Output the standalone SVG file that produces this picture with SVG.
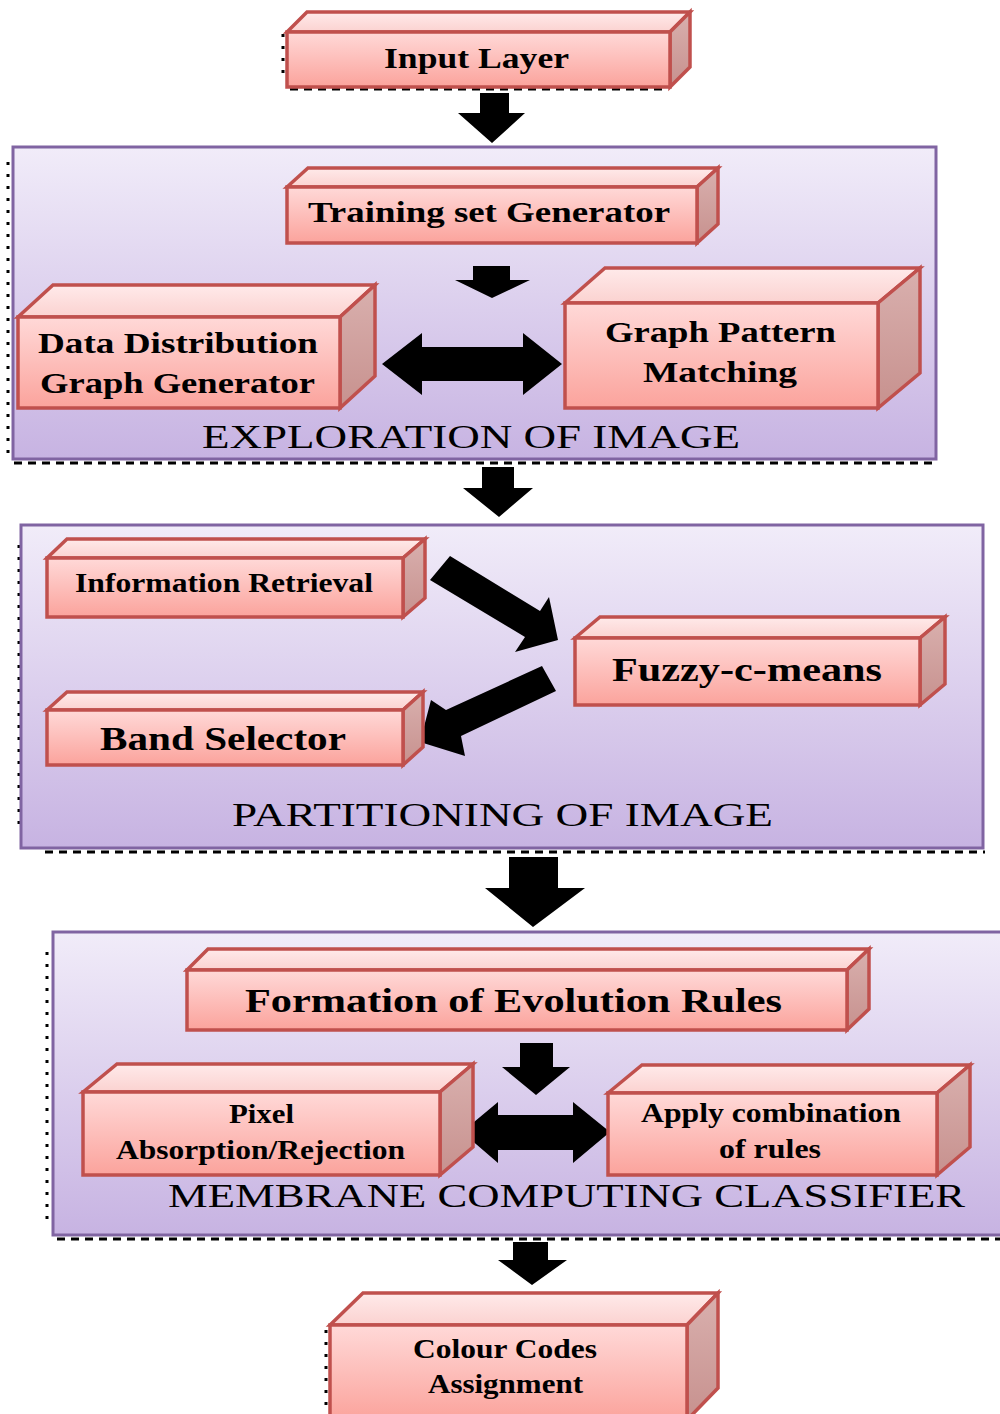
<svg xmlns="http://www.w3.org/2000/svg" width="1000" height="1414" viewBox="0 0 1000 1414">
  <defs>
    <linearGradient id="gPanel" x1="0" y1="0" x2="0" y2="1">
      <stop offset="0" stop-color="#f1ecf9"/>
      <stop offset="1" stop-color="#c7b3e2"/>
    </linearGradient>
    <linearGradient id="gFront" x1="0" y1="0" x2="0" y2="1">
      <stop offset="0" stop-color="#ffd9d8"/>
      <stop offset="1" stop-color="#fba39c"/>
    </linearGradient>
    <linearGradient id="gTop" x1="0" y1="0" x2="0" y2="1">
      <stop offset="0" stop-color="#ffeaea"/>
      <stop offset="1" stop-color="#fbd2d0"/>
    </linearGradient>
    <linearGradient id="gSide" x1="0" y1="0" x2="0" y2="1">
      <stop offset="0" stop-color="#d9b0ae"/>
      <stop offset="1" stop-color="#c7918e"/>
    </linearGradient>
    <style>
      .panel { fill: url(#gPanel); stroke: #8064a2; stroke-width: 3; }
      .front { fill: url(#gFront); stroke: #c0504d; stroke-width: 3.5; stroke-linejoin: miter; }
      .top { fill: url(#gTop); stroke: #c0504d; stroke-width: 3.5; stroke-linejoin: miter; }
      .side { fill: url(#gSide); stroke: #c0504d; stroke-width: 3.5; stroke-linejoin: miter; }
      .lbl { font-family: "Liberation Serif", "Times New Roman", serif; font-weight: bold; fill: #000; }
      .cap { font-family: "Liberation Serif", "Times New Roman", serif; font-weight: normal; fill: #000; }
      .arrow { fill: #000; stroke: none; }
      .dots { stroke: #000; stroke-width: 3; fill: none; stroke-dasharray: 3 9; }
      .dash { stroke: #000; stroke-width: 3; fill: none; stroke-dasharray: 8 6; }
    </style>
  </defs>

  <rect width="1000" height="1414" fill="#ffffff"/>

  <!-- dotted frame remnants around containers and boxes -->
  <g id="frames">
    <line class="dots" x1="8" y1="162" x2="8" y2="460"/>
    <line class="dash" x1="14" y1="463" x2="936" y2="463"/>
    <line class="dots" x1="19" y1="545" x2="19" y2="830"/>
    <line class="dash" x1="45" y1="852" x2="985" y2="852" stroke-dasharray="7 24"/>
    <line class="dots" x1="47" y1="952" x2="47" y2="1225"/>
    <line class="dash" x1="57" y1="1239" x2="1000" y2="1239" stroke-dasharray="24 9 24 30"/>
    <line class="dots" x1="283" y1="34" x2="283" y2="80"/>
    <line class="dash" x1="290" y1="89" x2="665" y2="89" stroke-dasharray="30 17"/>
    <line class="dots" x1="283" y1="186" x2="283" y2="242"/>
    <line class="dash" x1="320" y1="248" x2="640" y2="248" stroke-dasharray="7 54"/>
    <line class="dots" x1="560" y1="330" x2="560" y2="405"/>
    <line class="dash" x1="568" y1="410" x2="880" y2="410" stroke-dasharray="6 14"/>
    <line class="dots" x1="16" y1="316" x2="16" y2="400"/>
    <line class="dots" x1="44" y1="562" x2="44" y2="600"/>
    <line class="dots" x1="44" y1="726" x2="44" y2="756"/>
    <line class="dots" x1="571" y1="655" x2="571" y2="703"/>
    <line class="dots" x1="948" y1="635" x2="948" y2="685"/>
    <line class="dots" x1="180" y1="990" x2="180" y2="1032"/>
    <line class="dash" x1="190" y1="1034" x2="850" y2="1034" stroke-dasharray="6 5"/>
    <line class="dots" x1="80" y1="1100" x2="80" y2="1165"/>
    <line class="dots" x1="605" y1="1110" x2="605" y2="1175"/>
    <line class="dots" x1="326" y1="1330" x2="326" y2="1410"/>
  </g>

  <!-- container panels -->
  <g id="exploration">
    <rect class="panel" x="13" y="147" width="923" height="312"/>
    <text class="cap" x="202" y="448" font-size="33" textLength="538" lengthAdjust="spacingAndGlyphs">EXPLORATION OF IMAGE</text>
  </g>
  <g id="partitioning">
    <rect class="panel" x="21" y="525" width="962" height="323"/>
    <text class="cap" x="232" y="826" font-size="33" textLength="541" lengthAdjust="spacingAndGlyphs">PARTITIONING OF IMAGE</text>
  </g>
  <g id="membrane">
    <rect class="panel" x="53" y="932" width="960" height="303"/>
  </g>

  <!-- connectors -->
  <g id="connectors">
    <!-- input -> exploration -->
    <polygon class="arrow" points="480,93 509,93 509,113 525,113 492,143 458,113 480,113"/>
    <!-- training set -> pattern level -->
    <polygon class="arrow" points="473,266 510,266 510,280 530,280 492,298 455,280 473,280"/>
    <!-- data distribution <-> graph pattern -->
    <polygon class="arrow" points="382,364 422,333 422,347 523,347 523,333 562,364 523,395 523,381 422,381 422,395"/>
    <!-- exploration -> partitioning -->
    <polygon class="arrow" points="482,467 514,467 514,488 533,488 499,517 463,488 482,488"/>
    <!-- information retrieval -> fuzzy-c-means -->
    <polygon class="arrow" points="430,580 450,556 540,611 549,597 558,640 515,652 525,637"/>
    <!-- fuzzy-c-means -> band selector -->
    <polygon class="arrow" points="542,666 556,691 461,736 465,756 420,742 431,700 446,710"/>
    <!-- partitioning -> membrane computing -->
    <polygon class="arrow" points="509,857 558,857 558,888 585,888 533,927 485,888 509,888"/>
    <!-- formation of rules -> lower row -->
    <polygon class="arrow" points="520,1043 553,1043 553,1067 570,1067 536,1095 502,1067 520,1067"/>
    <!-- pixel absorption <-> apply combination -->
    <polygon class="arrow" points="462,1132 498,1102 498,1115 573,1115 573,1102 610,1132 573,1163 573,1150 498,1150 498,1163"/>
    <!-- membrane -> colour codes -->
    <polygon class="arrow" points="513,1242 548,1242 548,1260 567,1260 532,1285 498,1260 513,1260"/>
  </g>

  <!-- nodes: front face, top face, side face, label -->
  <g id="input-layer">
    <polygon class="top" points="287,32 307,12 690,12 670,32"/>
    <polygon class="side" points="670,32 690,12 690,67 670,87"/>
    <rect class="front" x="287" y="32" width="383" height="55"/>
    <text class="lbl" x="384" y="68" font-size="30" textLength="185" lengthAdjust="spacingAndGlyphs">Input Layer</text>
  </g>

  <g id="training-set-generator">
    <polygon class="top" points="287,187 308,168 718,168 697,187"/>
    <polygon class="side" points="697,187 718,168 718,224 697,243"/>
    <rect class="front" x="287" y="187" width="410" height="56"/>
    <text class="lbl" x="308" y="222" font-size="30" textLength="362" lengthAdjust="spacingAndGlyphs">Training set Generator</text>
  </g>

  <g id="data-distribution-graph-generator">
    <polygon class="top" points="18,317 53,285 375,285 340,317"/>
    <polygon class="side" points="340,317 375,285 375,376 340,408"/>
    <rect class="front" x="18" y="317" width="322" height="91"/>
    <text class="lbl" x="38" y="353" font-size="30" textLength="280" lengthAdjust="spacingAndGlyphs">Data Distribution</text>
    <text class="lbl" x="40" y="393" font-size="30" textLength="275" lengthAdjust="spacingAndGlyphs">Graph Generator</text>
  </g>

  <g id="graph-pattern-matching">
    <polygon class="top" points="565,303 605,268 920,268 878,303"/>
    <polygon class="side" points="878,303 920,268 920,373 878,408"/>
    <rect class="front" x="565" y="303" width="313" height="105"/>
    <text class="lbl" x="605" y="342" font-size="30" textLength="231" lengthAdjust="spacingAndGlyphs">Graph Pattern</text>
    <text class="lbl" x="643" y="382" font-size="30" textLength="154" lengthAdjust="spacingAndGlyphs">Matching</text>
  </g>

  <g id="information-retrieval">
    <polygon class="top" points="47,558 67,539 425,539 403,558"/>
    <polygon class="side" points="403,558 425,539 425,598 403,617"/>
    <rect class="front" x="47" y="558" width="356" height="59"/>
    <text class="lbl" x="75" y="592" font-size="27" textLength="298" lengthAdjust="spacingAndGlyphs">Information Retrieval</text>
  </g>

  <g id="band-selector">
    <polygon class="top" points="47,710 67,692 423,692 403,710"/>
    <polygon class="side" points="403,710 423,692 423,747 403,765"/>
    <rect class="front" x="47" y="710" width="356" height="55"/>
    <text class="lbl" x="100" y="750" font-size="33" textLength="246" lengthAdjust="spacingAndGlyphs">Band Selector</text>
  </g>

  <g id="fuzzy-c-means">
    <polygon class="top" points="575,638 600,617 945,617 920,638"/>
    <polygon class="side" points="920,638 945,617 945,684 920,705"/>
    <rect class="front" x="575" y="638" width="345" height="67"/>
    <text class="lbl" x="612" y="681" font-size="33" textLength="270" lengthAdjust="spacingAndGlyphs">Fuzzy-c-means</text>
  </g>

  <g id="formation-of-evolution-rules">
    <polygon class="top" points="187,970 208,949 869,949 847,970"/>
    <polygon class="side" points="847,970 869,949 869,1009 847,1030"/>
    <rect class="front" x="187" y="970" width="660" height="60"/>
    <text class="lbl" x="245" y="1012" font-size="33" textLength="537" lengthAdjust="spacingAndGlyphs">Formation of Evolution Rules</text>
  </g>

  <g id="pixel-absorption-rejection">
    <polygon class="top" points="83,1092 117,1064 473,1064 440,1092"/>
    <polygon class="side" points="440,1092 473,1064 473,1147 440,1175"/>
    <rect class="front" x="83" y="1092" width="357" height="83"/>
    <text class="lbl" x="229" y="1123" font-size="27" textLength="65" lengthAdjust="spacingAndGlyphs">Pixel</text>
    <text class="lbl" x="116" y="1159" font-size="27" textLength="289" lengthAdjust="spacingAndGlyphs">Absorption/Rejection</text>
  </g>

  <g id="apply-combination-of-rules">
    <polygon class="top" points="608,1093 642,1065 970,1065 937,1093"/>
    <polygon class="side" points="937,1093 970,1065 970,1147 937,1175"/>
    <rect class="front" x="608" y="1093" width="329" height="82"/>
    <text class="lbl" x="641" y="1122" font-size="27" textLength="260" lengthAdjust="spacingAndGlyphs">Apply combination</text>
    <text class="lbl" x="719" y="1158" font-size="27" textLength="102" lengthAdjust="spacingAndGlyphs">of rules</text>
  </g>

  <!-- membrane caption sits over the lower boxes -->
  <text class="cap" x="168" y="1207" font-size="33" textLength="797" lengthAdjust="spacingAndGlyphs">MEMBRANE COMPUTING CLASSIFIER</text>

  <g id="colour-codes-assignment">
    <polygon class="top" points="330,1325 363,1293 718,1293 687,1325"/>
    <polygon class="side" points="687,1325 718,1293 718,1388 687,1420"/>
    <rect class="front" x="330" y="1325" width="357" height="95"/>
    <text class="lbl" x="413" y="1358" font-size="27" textLength="184" lengthAdjust="spacingAndGlyphs">Colour Codes</text>
    <text class="lbl" x="428" y="1393" font-size="27" textLength="155" lengthAdjust="spacingAndGlyphs">Assignment</text>
  </g>
</svg>
